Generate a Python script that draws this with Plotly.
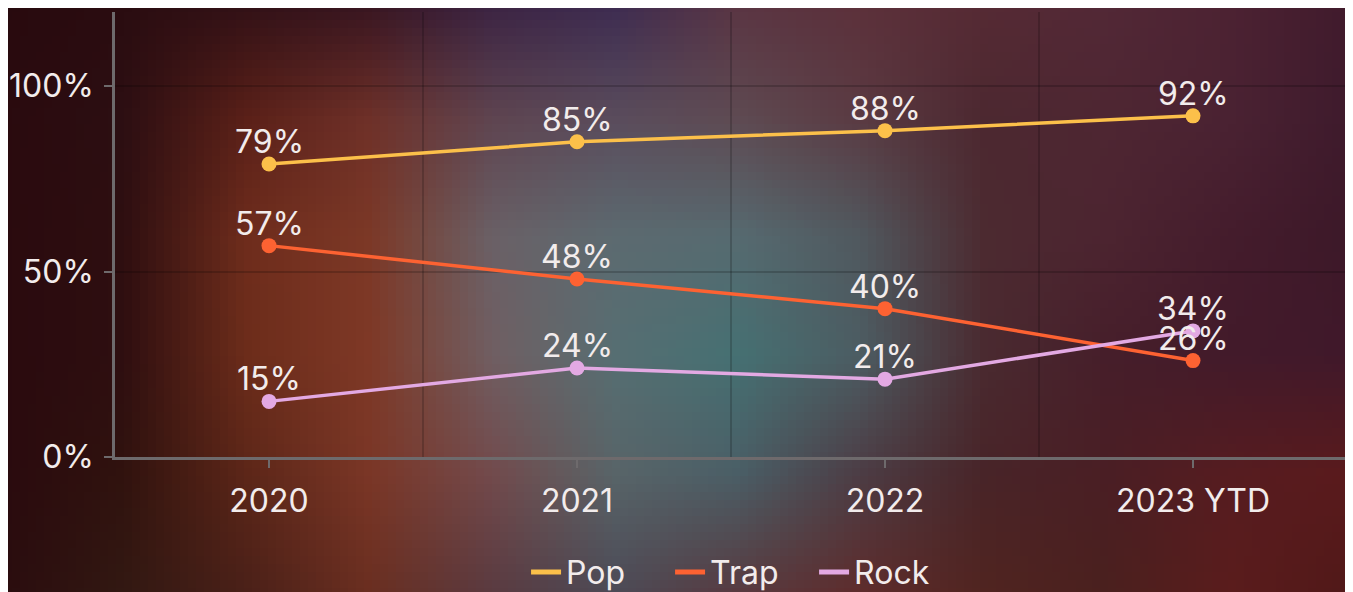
import numpy as np
import plotly.graph_objects as go

# ---- data ----
categories = ["2020", "2021", "2022", "2023 YTD"]
pop = [79, 85, 88, 92]
trap = [57, 48, 40, 26]
rock = [15, 24, 21, 34]
y_ticks = [0, 50, 100]

# ---- decorative blurred background colours (rows top->bottom, cols left->right) ----
bg_rows = [
    ["#280a0e", "#2a0c10", "#301016", "#361420", "#3a2242", "#3c2a50", "#5a3442", "#5c303a", "#562a34", "#522836", "#4c2232", "#401a2c"],
    ["#2a0a0e", "#2c0e12", "#5a2018", "#6e3028", "#5e4450", "#5a4c5c", "#5e4a52", "#5a3a42", "#4c2830", "#4e2632", "#4a2232", "#3e1a2c"],
    ["#2a0a0e", "#2e0e10", "#6e2c1c", "#7c3826", "#6a6066", "#5c6a70", "#566a70", "#50585e", "#4c2a30", "#4c2430", "#441c2c", "#3c1828"],
    ["#2a0a0e", "#2e0e10", "#6c2c1a", "#7e3826", "#705e62", "#566e72", "#457072", "#4c5c62", "#4a2a30", "#461e2a", "#421a2a", "#40182a"],
    ["#2a0a0e", "#30120e", "#5c2618", "#7a3626", "#724a4c", "#586468", "#4a5e66", "#4c3c44", "#482428", "#4a1e24", "#561c20", "#5a1a1c"],
    ["#2a0c0e", "#321812", "#4a2018", "#6a2e20", "#5a3a40", "#4c4a56", "#583a40", "#5e2c2c", "#502420", "#4a201e", "#5a1c1c", "#501818"],
]

W, H = 1353, 592
CELL = 8


def hex_to_rgb(h):
    h = h.lstrip("#")
    return [int(h[i:i + 2], 16) for i in (0, 2, 4)]


grid = np.array([[hex_to_rgb(c) for c in row] for row in bg_rows], dtype=float)
gr, gc = grid.shape[:2]
xs_px = np.arange(0, W + CELL, CELL)
ys_px = np.arange(0, H + CELL, CELL)
u = np.clip((xs_px + 8) / W * (gc - 1), 0, gc - 1)
v = np.clip((ys_px + 8) / H * (gr - 1), 0, gr - 1)
i0 = np.minimum(np.floor(v).astype(int), gr - 2)
j0 = np.minimum(np.floor(u).astype(int), gc - 2)
fv = (v - i0)[:, None, None]
fu = (u - j0)[None, :, None]
c00 = grid[i0][:, j0]
c01 = grid[i0][:, j0 + 1]
c10 = grid[i0 + 1][:, j0]
c11 = grid[i0 + 1][:, j0 + 1]
bg = (c00 * (1 - fu) * (1 - fv) + c01 * fu * (1 - fv) + c10 * (1 - fu) * fv + c11 * fu * fv)
bg = np.round(bg).astype(int).tolist()

FONT = "Inter"
TEXT = "#f2ecec"
FS = 32
AXC = "#6e6a6c"

fig = go.Figure()

fig.add_trace(go.Image(z=bg, x0=0, dx=CELL, y0=0, dy=CELL,
                       xaxis="x", yaxis="y", hoverinfo="skip"))

xs = list(range(len(categories)))
series = [("Pop", pop, "#fcc04a"), ("Trap", trap, "#fd6232"), ("Rock", rock, "#e3a9e3")]
for name, vals, col in series:
    fig.add_trace(go.Scatter(
        x=xs, y=vals, name=name, mode="lines+markers", showlegend=False,
        line=dict(color=col, width=3.5),
        marker=dict(color=col, size=15),
        xaxis="x2", yaxis="y2", cliponaxis=False,
    ))
    for xv, yv in zip(xs, vals):
        fig.add_annotation(x=xv, y=yv, xref="x2", yref="y2", text=f"{yv}%",
                           showarrow=False, yanchor="bottom", xanchor="center",
                           yshift=1, font=dict(family=FONT, size=FS, color=TEXT))
for name, vals, col in series:
    fig.add_trace(go.Scatter(
        x=[None], y=[None], name=name, mode="lines",
        line=dict(color=col, width=5), xaxis="x2", yaxis="y2",
    ))

fig.update_layout(
    width=W, height=H,
    margin=dict(l=0, r=0, t=0, b=0, autoexpand=False),
    paper_bgcolor="#2a0c10",
    plot_bgcolor="rgba(0,0,0,0)",
    font=dict(family=FONT, size=FS, color=TEXT),
    showlegend=True,
    legend=dict(orientation="h", x=0.3829, xanchor="left", y=0.047, yanchor="middle",
                font=dict(family=FONT, size=FS, color=TEXT), bgcolor="rgba(0,0,0,0)",
                entrywidth=99, entrywidthmode="pixels", itemwidth=30, tracegroupgap=0),
    xaxis=dict(domain=[0, 1], range=[0, W], visible=False, fixedrange=True),
    yaxis=dict(domain=[0, 1], range=[H, 0], visible=False, fixedrange=True),
    xaxis2=dict(domain=[107 / W, 1339 / W], anchor="y2", range=[-0.5, 3.5],
                tickvals=xs, ticktext=categories, showgrid=False,
                minor=dict(tickvals=[0.5, 1.5, 2.5], showgrid=True,
                           gridcolor="rgba(0,0,0,0.18)", gridwidth=1.5, ticklen=0),
                showline=True, linecolor=AXC, linewidth=2.5,
                ticks="outside", ticklen=8, tickwidth=2, tickcolor=AXC,
                ticklabelstandoff=6, zeroline=False,
                tickfont=dict(family=FONT, size=FS, color=TEXT)),
    yaxis2=dict(domain=[(H - 449) / H, (H - 4) / H], anchor="x2", range=[0, 120],
                tickvals=y_ticks, ticktext=[f"{t}%" for t in y_ticks], showgrid=True,
                gridcolor="rgba(0,0,0,0.18)", gridwidth=1.5,
                showline=True, linecolor=AXC, linewidth=2.5,
                ticks="outside", ticklen=8, tickwidth=2, tickcolor=AXC,
                ticklabelstandoff=4, zeroline=False,
                tickfont=dict(family=FONT, size=FS, color=TEXT)),
)

fig.write_html("out.html")
